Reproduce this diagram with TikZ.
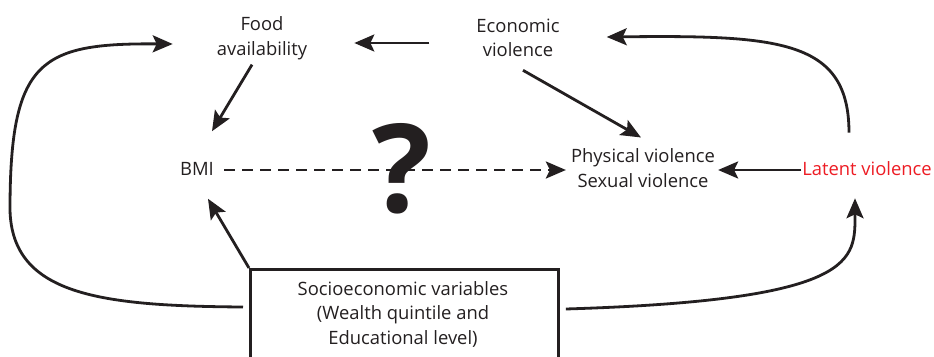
\documentclass[tikz,border=0pt]{standalone}
\usepackage{fontspec}
\setmainfont{Open Sans}
\usetikzlibrary{arrows.meta,calc}
\definecolor{ink}{HTML}{231F20}
\definecolor{latred}{HTML}{ED1C24}
\tikzset{
  lbl/.style={inner sep=0pt, align=center, text=ink, font=\fontsize{18.4}{24.5}\selectfont},
  arr/.style={draw=ink, line width=2.8pt, -{Stealth[length=20pt,width=17pt,inset=4pt]}},
  dsh/.style={arr, dash pattern=on 11pt off 7pt},
  boxst/.style={draw=ink, line width=2.8pt, inner sep=0pt, minimum width=308pt, minimum height=140pt, anchor=north west}
}
\begin{document}
\begin{tikzpicture}[x=1pt,y=-1pt]
\useasboundingbox (0,0) rectangle (934,356);
\node[lbl] (food) at (262,38) {Food\\availability};
\node[lbl] (econ) at (518,38) {Economic\\violence};
\node[lbl] (bmi) at (197,169) {BMI};
\node[lbl] (phys) at (643,168) {Physical violence\\Sexual violence};
\node[lbl, text=latred] (latent) at (867,169) {Latent violence};
\node[boxst] (socio) at (249,268) {};
\node[lbl] (sociotext) at (403,314) {Socioeconomic variables\\(Wealth quintile and\\Educational level)};
% connectors
\draw[arr] ($(econ.west)+(-47,5)$) -- ($(food.east)+(47,5)$);
\draw[arr] ($(food.south)+(-10,5)$) -- ($(bmi.north)+(15,-31)$);
\draw[arr] ($(econ.south)+(5,13)$) -- ($(phys.north)+(-2,-11)$);
\draw[dsh] ($(bmi.east)+(10,1)$) -- ($(bmi.east -| phys.west)+(-5,1)$);
\draw[arr] ($(latent.west)+(-1,1)$) -- ($(latent.west -| phys.east)+(3,1)$);
\draw[arr] (socio.north west) -- ($(bmi.south)+(11,23)$);
\draw[arr] ($(latent.north)+(-18,-29)$) .. controls (849,40) and (780,35) .. ($(econ.east)+(47,-1)$);
\draw[arr] ($(socio.north west)+(-6,39)$) .. controls (100,306) and (12,295) .. (10,210) .. controls (10,60) and (40,43) .. ($(food.west)+(-44,6)$);
\draw[arr] ($(socio.north east)+(6,41)$) .. controls (860,300) and (855,260) .. ($(latent.south)+(-12,22)$);
\node[inner sep=0pt, text=ink, font=\fontsize{123}{123}\bfseries\selectfont] (q) at (402,169) {?};
\end{tikzpicture}
\end{document}
